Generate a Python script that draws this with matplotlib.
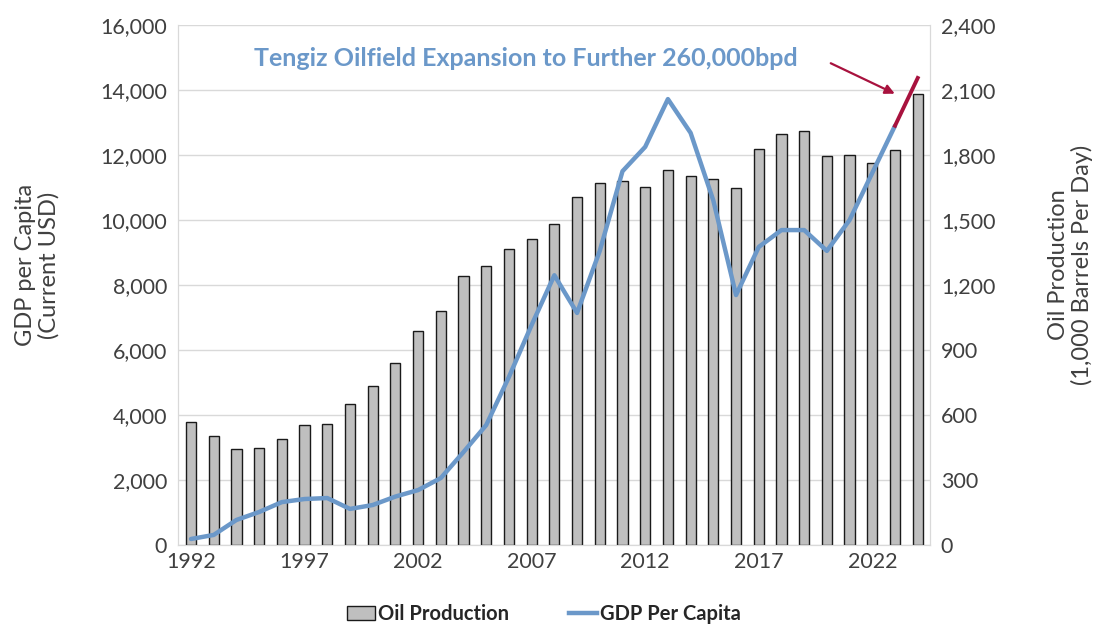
import matplotlib
matplotlib.use("Agg")
import matplotlib.pyplot as plt
from matplotlib.patches import Patch
from matplotlib.lines import Line2D
import numpy as np

plt.rcParams['font.family'] = ['Lato', 'DejaVu Sans']

years = list(range(1992, 2025))
# oil production, 1,000 barrels per day (right axis)
oil = [568, 503, 443, 448, 489, 554, 558, 651, 734, 840, 988, 1080, 1241, 1288,
       1366, 1412, 1481, 1606, 1671, 1680, 1652, 1731, 1703, 1689, 1648, 1828,
       1897, 1911, 1795, 1800, 1763, 1823, 2081]
# GDP per capita, current USD (left axis), 1992-2023
gdp = [185, 310, 770, 1015, 1320, 1415, 1445, 1110, 1230, 1490, 1690, 2060,
       2860, 3690, 5170, 6770, 8300, 7140, 9050, 11500, 12250, 13720, 12680,
       10600, 7690, 9170, 9690, 9690, 9050, 10000, 11450, 12900]
# projected segment 2023-2024
proj_years = [2023, 2024]
proj_gdp = [12900, 14370]

tick_years = [1992, 1997, 2002, 2007, 2012, 2017, 2022]

blue = '#6b98c9'
red = '#a8123e'
txt = '#404040'

fig = plt.figure(figsize=(10.99, 6.25), dpi=100)
ax = fig.add_axes([0.162, 0.128, 0.684, 0.832])
ax2 = ax.twinx()
ax.set_zorder(ax2.get_zorder() + 1)
ax.patch.set_visible(False)

x = np.arange(len(years))
ax2.bar(x, oil, width=0.45, color='#bfbfbf', edgecolor='#1a1a1a', linewidth=1.0, zorder=3)
ax2.set_ylim(0, 2400)
ax2.set_yticks(range(0, 2401, 300))
ax2.set_yticklabels([f'{v:,}' for v in range(0, 2401, 300)])
ax2.grid(axis='y', color='#d9d9d9', linewidth=1.0, zorder=0)
ax2.set_axisbelow(True)

ax.plot(x[:len(gdp)], gdp, color=blue, linewidth=3.2, solid_capstyle='round', zorder=4)
px = [years.index(y) for y in proj_years]
ax.plot(px, proj_gdp, color=red, linewidth=2.8, zorder=5)
ax.set_ylim(0, 16000)
ax.set_yticks(range(0, 16001, 2000))
ax.set_yticklabels([f'{v:,}' for v in range(0, 16001, 2000)])
ax.set_xlim(-0.57, len(years) - 0.47)
ax.set_xticks([years.index(y) for y in tick_years])
ax.set_xticklabels([str(y) for y in tick_years])

for a in (ax, ax2):
    for s in a.spines.values():
        s.set_color('#d9d9d9')
    a.tick_params(length=0, labelsize=15.5, labelcolor=txt, pad=8)
ax.spines['top'].set_visible(False)
ax2.spines['top'].set_visible(False)
ax.tick_params(axis='x', pad=5)

fig.text(0.034, 0.576, 'GDP per Capita\n(Current USD)', rotation=90, ha='center', va='center',
         fontsize=17, color=txt, linespacing=1.1)
fig.text(0.974, 0.576, 'Oil Production\n(1,000 Barrels Per Day)', rotation=90, ha='center',
         va='center', fontsize=17, color=txt, linespacing=1.1)

ax.text(0.463, 0.935, 'Tengiz Oilfield Expansion to Further 260,000bpd', transform=ax.transAxes,
        ha='center', va='center', fontsize=18, fontweight='bold', color=blue)
ax.annotate('', xy=(31.1, 13850), xytext=(28.06, 14860),
            arrowprops=dict(arrowstyle='-|>', color=red, lw=1.6, mutation_scale=14))

handles = [Patch(facecolor='#bfbfbf', edgecolor='#1a1a1a', linewidth=1.0),
           Line2D([0], [0], color=blue, linewidth=3.2)]
fig.legend(handles, ['Oil Production', 'GDP Per Capita'], loc='center',
           bbox_to_anchor=(0.495, 0.018), ncol=2, frameon=False,
           prop={'weight': 'bold', 'size': 14.5}, handlelength=1.4, handletextpad=0.15,
           columnspacing=3.0, labelcolor='#262626')

fig.savefig('out.png', dpi=100)
